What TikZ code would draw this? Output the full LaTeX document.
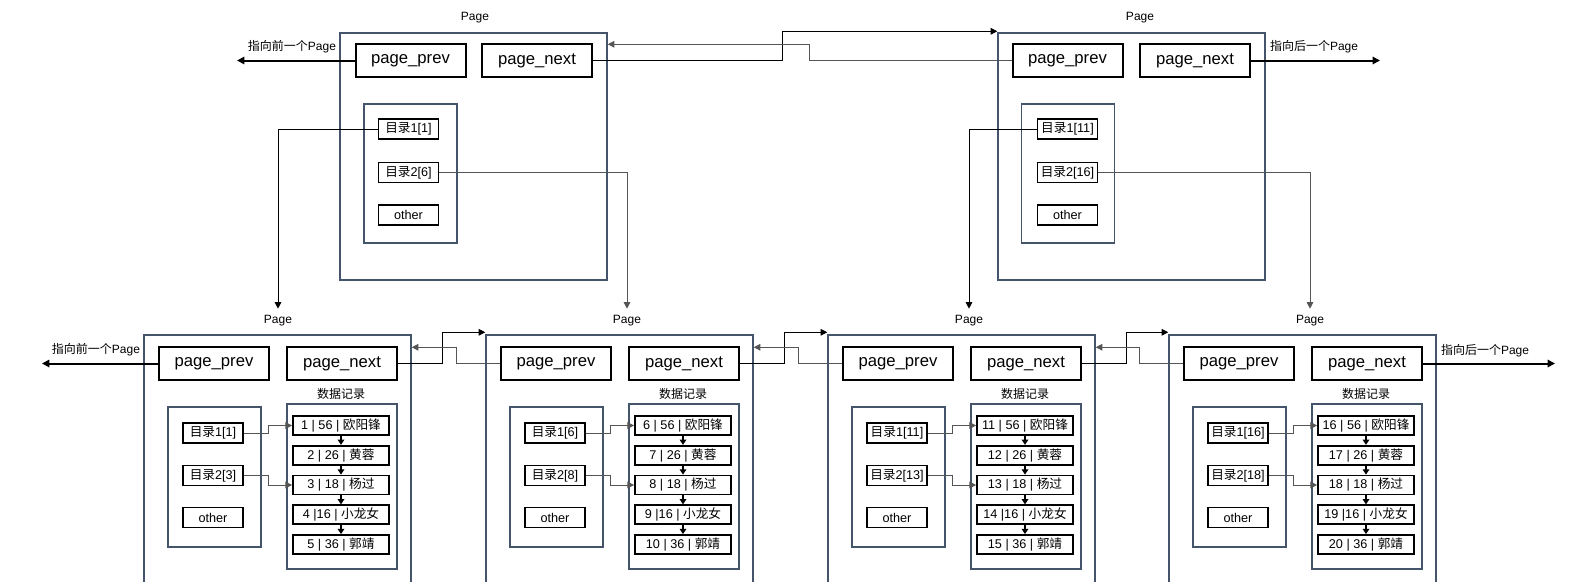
\documentclass[tikz,border=0pt]{standalone}
\usepackage{fontspec}
\setmainfont{Liberation Sans}
\newfontfamily\cjkf{Noto Sans CJK SC}
\newcommand\zh[1]{{\cjkf #1}}
\usetikzlibrary{arrows.meta}
\definecolor{pagecol}{RGB}{68,84,106}
\definecolor{linkgray}{RGB}{85,85,85}
\begin{document}
\begin{tikzpicture}[x=0.75pt,y=-0.75pt,
  pagebox/.style={draw=pagecol,line width=1.1pt,inner sep=0pt},
  field/.style={draw=black,line width=1.5pt,minimum width=82.5pt,minimum height=24.75pt,inner sep=0pt,font=\fontsize{12.5}{14}\selectfont},
  sbox/.style={draw=black,line width=1.3pt,minimum width=45pt,minimum height=15pt,inner sep=0pt,font=\fontsize{9.5}{11}\selectfont},
  rbox/.style={draw=black,line width=1.3pt,minimum width=72pt,minimum height=14.25pt,inner sep=0pt,font=\fontsize{9.5}{11}\selectfont},
  lbl/.style={inner sep=1pt,font=\fontsize{9}{11}\selectfont},
  link/.style={draw=black,line width=0.75pt,-{Triangle[length=5pt,width=5pt]}},
  glink/.style={link,draw=linkgray},
  bigarrow/.style={draw=black,line width=1.5pt,-{Triangle[length=5.5pt,width=5.5pt]}},
  rarrow/.style={draw=black,line width=0.9pt,-{Triangle[length=4pt,width=5pt]}},
]
\useasboundingbox (0,0) rectangle (1589,582);
\clip (0,0) rectangle (1589,582);

% ---------- top pages ----------
\node[lbl] (tpl1) at (475,18) {Page};
\node[lbl] (tpl2) at (1140,18) {Page};
\node[pagebox,minimum width=200.25pt,minimum height=185.25pt] (tbox1) at (473.5,156.5) {};
\node[pagebox,minimum width=200.25pt,minimum height=185.25pt] (tbox2) at (1131.5,156.5) {};
\node[field] (tprev1) at (410.5,60.5) {page\_prev};
\node[field] (tnext1) at (537,60.5) {page\_next};
\node[field] (tprev2) at (1067.5,60.5) {page\_prev};
\node[field] (tnext2) at (1195,60.5) {page\_next};
\node[pagebox,minimum width=69.75pt,minimum height=104.25pt] (tdir1) at (410.5,173.5) {};
\node[pagebox,minimum width=69.75pt,minimum height=104.25pt] (tdir2) at (1068,173.5) {};
\node[sbox] (t1d1) at (408.5,129) {\zh{目录}1[1]};
\node[sbox] (t1d2) at (408.5,172.5) {\zh{目录}2[6]};
\node[sbox] (t1o) at (408.5,215) {other};
\node[sbox] (t2d1) at (1067.5,129) {\zh{目录}1[11]};
\node[sbox] (t2d2) at (1067.5,172.5) {\zh{目录}2[16]};
\node[sbox] (t2o) at (1067.5,215) {other};

\node[lbl] (tlt1) at (292,47) {\zh{指向前一个}Page};
\node[lbl] (tlt2) at (1314,47) {\zh{指向后一个}Page};
\coordinate (tend1) at (237,60.5);
\coordinate (tend2) at (1380,60.5);
\draw[bigarrow] (tprev1.west) -- (tend1);
\draw[bigarrow] (tnext2.east) -- (tend2);

\draw[link] (tnext1.east) -- ++(189,0) |- ([yshift=0.75pt]tbox2.north west);
\draw[glink] (tprev2.west) -- ++(-202,0) |- ([yshift=-9pt]tbox1.north east);

% ---------- bottom page labels ----------
\node[lbl] (pl1) at (278,321) {Page};
\node[lbl] (pl2) at (627,321) {Page};
\node[lbl] (pl3) at (969,321) {Page};
\node[lbl] (pl4) at (1310,321) {Page};

\draw[link,shorten >=4pt] (t1d1.west) -| (pl1.north);
\draw[glink,shorten >=4pt] (t1d2.east) -| (pl2.north);
\draw[link,shorten >=4pt] (t2d1.west) -| (pl3.north);
\draw[glink,shorten >=4pt] (t2d2.east) -| (pl4.north);

% ---------- bottom pages ----------
\foreach \n/\lx/\da/\db/\st in {1/144/1/3/0,2/486/6/8/5,3/828/11/13/10,4/1169/16/18/15}{
  \pgfmathtruncatemacro\ra{\st+1}
  \pgfmathtruncatemacro\rb{\st+2}
  \pgfmathtruncatemacro\rc{\st+3}
  \pgfmathtruncatemacro\rd{\st+4}
  \pgfmathtruncatemacro\re{\st+5}
  \node[pagebox,minimum width=200.25pt,minimum height=188.25pt] (bbox\n) at (\lx+133.5,460.5) {};
  \node[field] (bprev\n) at (\lx+70,363.5) {page\_prev};
  \node[field] (bnext\n) at (\lx+198,363.5) {page\_next};
  \node[lbl] (bdl\n) at (\lx+197,394) {\zh{数据记录}};
  \node[pagebox,minimum width=69.75pt,minimum height=105pt] (bdir\n) at (\lx+70.5,477) {};
  \node[sbox] (bda\n) at (\lx+69,433) {\zh{目录}1[\da]};
  \node[sbox] (bdb\n) at (\lx+69,475.5) {\zh{目录}2[\db]};
  \node[sbox] (bo\n) at (\lx+69,517.5) {other};
  \node[pagebox,minimum width=82.5pt,minimum height=123.75pt] (bdata\n) at (\lx+198,486.5) {};
  \node[rbox] (bra\n) at (\lx+197,425.5) {\ra{} | 56 | \zh{欧阳锋}};
  \node[rbox] (brb\n) at (\lx+197,455.25) {\rb{} | 26 | \zh{黄蓉}};
  \node[rbox] (brc\n) at (\lx+197,485) {\rc{} | 18 | \zh{杨过}};
  \node[rbox] (brd\n) at (\lx+197,514.75) {\rd{} |16 | \zh{小龙女}};
  \node[rbox] (bre\n) at (\lx+197,544.5) {\re{} | 36 | \zh{郭靖}};
  \draw[rarrow] (bra\n.south) -- (brb\n.north);
  \draw[rarrow] (brb\n.south) -- (brc\n.north);
  \draw[rarrow] (brc\n.south) -- (brd\n.north);
  \draw[rarrow] (brd\n.south) -- (bre\n.north);
  \draw[glink] (bda\n.east) -- ++(25,0) |- (bra\n.west);
  \draw[glink] (bdb\n.east) -- ++(25,0) |- (brc\n.west);
}

\foreach \n/\m in {1/2,2/3,3/4}{
  \draw[link] (bnext\n.east) -- ++(44,0) |- ([yshift=1.5pt]bbox\m.north west);
  \draw[glink] (bprev\m.west) -- ++(-44,0) |- ([yshift=-9.75pt]bbox\n.north east);
}

\node[lbl] (blt1) at (96,350) {\zh{指向前一个}Page};
\node[lbl] (blt2) at (1485,351) {\zh{指向后一个}Page};
\coordinate (bend1) at (42,363.5);
\coordinate (bend2) at (1555,363.5);
\draw[bigarrow] (bprev1.west) -- (bend1);
\draw[bigarrow] (bnext4.east) -- (bend2);
\end{tikzpicture}
\end{document}
